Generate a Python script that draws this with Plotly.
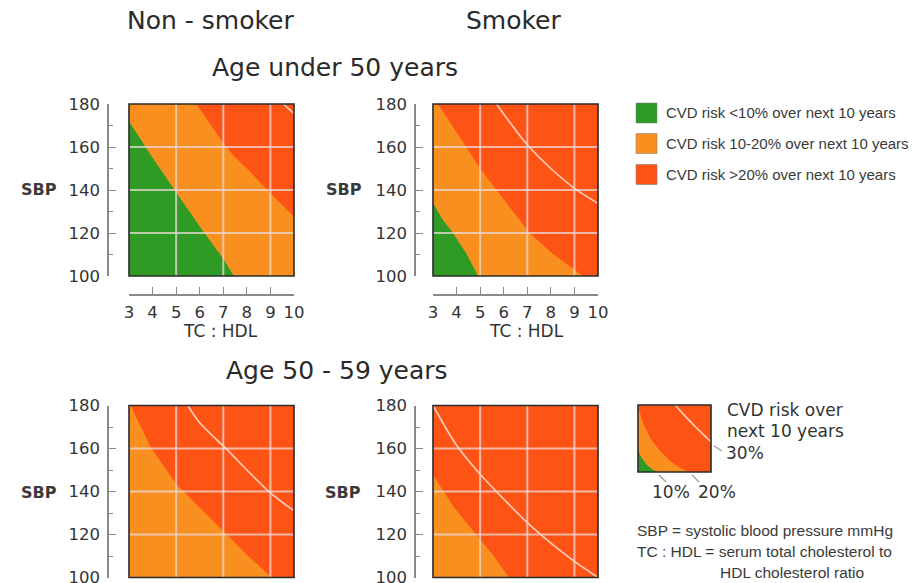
import plotly.graph_objects as go

W, H = 918, 583

GREEN = "#2f9a24"
ORANGE = "#f98f1f"
RED = "#fd5415"
GRID = "rgba(238,218,218,0.75)"
LINE30 = "rgba(255,228,218,0.85)"
AXIS = "#8a8a8a"
TXT = "#333333"
SANS = "DejaVu Sans"
ARIAL = "Liberation Sans"

# ---------------- data ----------------
tc_hdl_ticks = [3, 4, 5, 6, 7, 8, 9, 10]
sbp_ticks = [100, 120, 140, 160, 180]
sbp_minor = [110, 130, 150, 170]
grid_tc = [5, 7, 9]
grid_sbp = [120, 140, 160]

# Non-smoker, age under 50
ns_u50_tc10 = [3, 4, 5, 6, 7, 7.45]
ns_u50_sbp10 = [172, 155, 139, 123, 108, 100]
ns_u50_tc20 = [3, 5.86, 7, 7.42, 8, 9, 10]
ns_u50_sbp20 = [180, 180, 161.7, 156, 150, 138.5, 127.6]
ns_u50_tc30 = [9.55, 10]
ns_u50_sbp30 = [180, 175.5]

# Smoker, age under 50
s_u50_tc10 = [3, 3.42, 3.85, 4.41, 4.91]
s_u50_sbp10 = [134, 126, 120, 110.5, 100]
s_u50_tc20 = [3, 3.21, 4.41, 5.0, 5.69, 7.1, 8.06, 9.37]
s_u50_sbp20 = [180, 180, 160, 150, 140, 120, 110.5, 100]
s_u50_tc30 = [5.69, 7, 8, 9, 10]
s_u50_sbp30 = [180, 161, 150, 140.8, 133.8]

# Non-smoker, age 50-59
ns_5059_tc20 = [3, 3.07, 3.92, 5.0, 6.0, 7.13, 7.97, 9.05]
ns_5059_sbp20 = [180, 180, 160.6, 143.5, 132.5, 120.2, 110.9, 100]
ns_5059_tc30 = [5.49, 6, 7.13, 8, 8.97, 10]
ns_5059_sbp30 = [180, 172, 159.8, 150, 139.6, 131]

# Smoker, age 50-59
s_5059_tc20 = [3, 3.88, 4.8, 5.51, 6.22]
s_5059_sbp20 = [147.7, 132.8, 120.3, 110.9, 100]
s_5059_tc30 = [3, 4, 5, 6, 7, 8, 9, 10]
s_5059_sbp30 = [180, 161.5, 148, 136.5, 125.5, 116, 107.5, 100]

# Key (mini chart)
key_tc10 = [3, 3.3, 3.8, 4.4, 4.9]
key_sbp10 = [126, 118, 109, 103, 100]
key_tc20 = [3, 3.5, 4.2, 5, 6, 7, 7.84]
key_sbp20 = [178, 158, 140, 127, 114, 105, 100]
key_tc30 = [6.55, 7.5, 8.5, 9.5, 10]
key_sbp30 = [180, 167, 154, 142, 136]

legend_labels = ["CVD risk <10% over next 10 years",
                 "CVD risk 10-20% over next 10 years",
                 "CVD risk >20% over next 10 years"]
legend_colors = [GREEN, ORANGE, RED]


def px(x):
    return x / W


def py(y):
    return 1 - y / H


fig = go.Figure()

panels = [
    ("", ns_u50_tc20, ns_u50_sbp20, ns_u50_tc10, ns_u50_sbp10, ns_u50_tc30, ns_u50_sbp30),
    ("2", s_u50_tc20, s_u50_sbp20, s_u50_tc10, s_u50_sbp10, s_u50_tc30, s_u50_sbp30),
    ("3", ns_5059_tc20, ns_5059_sbp20, None, None, ns_5059_tc30, ns_5059_sbp30),
    ("4", s_5059_tc20, s_5059_sbp20, None, None, s_5059_tc30, s_5059_sbp30),
    ("5", key_tc20, key_sbp20, key_tc10, key_sbp10, key_tc30, key_sbp30),
]

for suf, t20, s20, t10, s10, t30, s30 in panels:
    xa, ya = "x" + suf, "y" + suf
    fig.add_trace(go.Scatter(x=t20, y=s20, xaxis=xa, yaxis=ya, mode="none",
                             fill="tozeroy", fillcolor=ORANGE, showlegend=False,
                             hoverinfo="skip"))
    if t10 is not None:
        fig.add_trace(go.Scatter(x=t10, y=s10, xaxis=xa, yaxis=ya, mode="none",
                                 fill="tozeroy", fillcolor=GREEN, showlegend=False,
                                 hoverinfo="skip"))
    fig.add_trace(go.Scatter(x=t30, y=s30, xaxis=xa, yaxis=ya, mode="lines",
                             line=dict(color=LINE30, width=1.6, shape="spline",
                                       smoothing=0.8),
                             showlegend=False, hoverinfo="skip"))

# --------------- axes ---------------
col_x = [(129, 294), (433, 598)]
row_y = [(104, 276), (405.5, 577.5)]
yline_x = [108, 415]
xline_y = 295

layout_axes = {}
tickfont = dict(family=SANS, size=16.5, color=TXT)
k = 0
for r in range(2):
    for c in range(2):
        k += 1
        suf = "" if k == 1 else str(k)
        xdom = [px(col_x[c][0]), px(col_x[c][1])]
        ydom = [py(row_y[r][1]), py(row_y[r][0])]
        if r == 0:
            layout_axes["xaxis" + suf] = dict(
                domain=xdom, range=[3, 10], anchor="free", position=py(xline_y),
                tickvals=tc_hdl_ticks, ticks="inside", ticklen=7, tickcolor=AXIS,
                tickwidth=1.2, showline=True, linecolor=AXIS, linewidth=1.5,
                showgrid=False, zeroline=False, tickfont=tickfont,
                ticklabelstandoff=2, automargin=False, fixedrange=True)
        else:
            layout_axes["xaxis" + suf] = dict(domain=xdom, range=[3, 10],
                                              visible=False, anchor="y" + suf,
                                              automargin=False)
        layout_axes["yaxis" + suf] = dict(
            domain=ydom, range=[100, 180], anchor="free", position=px(yline_x[c]),
            side="left", tickvals=sbp_ticks, ticks="inside", ticklen=7,
            tickcolor=AXIS, tickwidth=1.2, showline=True, linecolor=AXIS,
            linewidth=1.5, showgrid=False, zeroline=False, tickfont=tickfont,
            ticklabelstandoff=4, automargin=False, ticklabeloverflow="allow",
            minor=dict(tickvals=sbp_minor, ticks="inside", ticklen=4,
                       tickcolor=AXIS, tickwidth=1.2, showgrid=False))

layout_axes["xaxis5"] = dict(domain=[px(638), px(711)], range=[3, 10],
                             visible=False, anchor="y5", automargin=False)
layout_axes["yaxis5"] = dict(domain=[py(472), py(405)], range=[100, 180],
                             visible=False, anchor="x5", automargin=False)

shapes = []
for k in range(1, 5):
    suf = "" if k == 1 else str(k)
    for g in grid_tc:
        shapes.append(dict(type="line", xref="x" + suf, yref="y" + suf + " domain",
                           x0=g, x1=g, y0=0, y1=1, layer="above",
                           line=dict(color=GRID, width=2)))
    for g in grid_sbp:
        shapes.append(dict(type="line", xref="x" + suf + " domain", yref="y" + suf,
                           x0=0, x1=1, y0=g, y1=g, layer="above",
                           line=dict(color=GRID, width=2)))
for k in range(1, 6):
    suf = "" if k == 1 else str(k)
    shapes.append(dict(type="rect", xref="x" + suf + " domain",
                       yref="y" + suf + " domain", x0=0, x1=1, y0=0, y1=1,
                       layer="above", line=dict(color="#2a2a2a", width=1.6)))

leg_y = [113, 143.5, 174.5]
for cy, col in zip(leg_y, legend_colors):
    shapes.append(dict(type="rect", xref="paper", yref="paper",
                       x0=px(636), x1=px(657), y0=py(cy + 10), y1=py(cy - 10),
                       fillcolor=col, line=dict(color="rgba(120,120,120,0.5)", width=1)))

for (x0, y0, x1, y1) in [(714, 446, 722, 451), (659, 475, 666, 482), (692, 475, 699, 482)]:
    shapes.append(dict(type="line", xref="paper", yref="paper",
                       x0=px(x0), y0=py(y0), x1=px(x1), y1=py(y1),
                       line=dict(color="#9a9a9a", width=1.2)))

annotations = []


def ann(text, x, y, size, family=SANS, xanchor="center", color=TXT, bold=False):
    annotations.append(dict(text=text, x=px(x), y=py(y), xref="paper", yref="paper",
                            xanchor=xanchor, yanchor="middle", showarrow=False,
                            font=dict(family=family, size=size, color=color,
                                      weight="bold" if bold else "normal")))


ann("Non - smoker", 210, 21, 25, color="#2a2a2a")
ann("Smoker", 513, 21, 25, color="#2a2a2a")
ann("Age under 50 years", 335, 67, 25, color="#2a2a2a")
ann("Age 50 - 59 years", 337, 370, 25, color="#2a2a2a")
for (x, y) in [(39, 189), (344, 189), (39, 492), (343, 492)]:
    ann("SBP", x, y, 16, bold=True, color="#3a3a3a")
ann("TC : HDL", 220, 331, 17)
ann("TC : HDL", 526, 331, 17)

for cy, lab in zip(leg_y, legend_labels):
    ann(lab, 664, cy, 15, family=ARIAL, xanchor="left", color="#3a3a3a")

ann("CVD risk over", 725, 410, 17, xanchor="left")
ann("next 10 years", 725, 431, 17, xanchor="left")
ann("30%", 724, 453, 17, xanchor="left")
ann("10%", 671, 492, 17)
ann("20%", 717, 492, 17)
ann("SBP = systolic blood pressure mmHg", 635, 530, 15.5, family=ARIAL,
    xanchor="left", color="#3a3a3a")
ann("TC : HDL = serum total cholesterol to", 635, 551, 15.5, family=ARIAL,
    xanchor="left", color="#3a3a3a")
ann("HDL cholesterol ratio", 718, 572, 15.5, family=ARIAL,
    xanchor="left", color="#3a3a3a")

fig.update_layout(
    width=W, height=H, margin=dict(l=0, r=0, t=0, b=0, pad=0, autoexpand=False),
    paper_bgcolor="white", plot_bgcolor=RED, showlegend=False,
    shapes=shapes, annotations=annotations, **layout_axes)

fig.write_html("out.html", config={"responsive": False, "displayModeBar": False},
               post_script="document.body.style.margin='0';"
                           "document.body.style.overflow='hidden';")
